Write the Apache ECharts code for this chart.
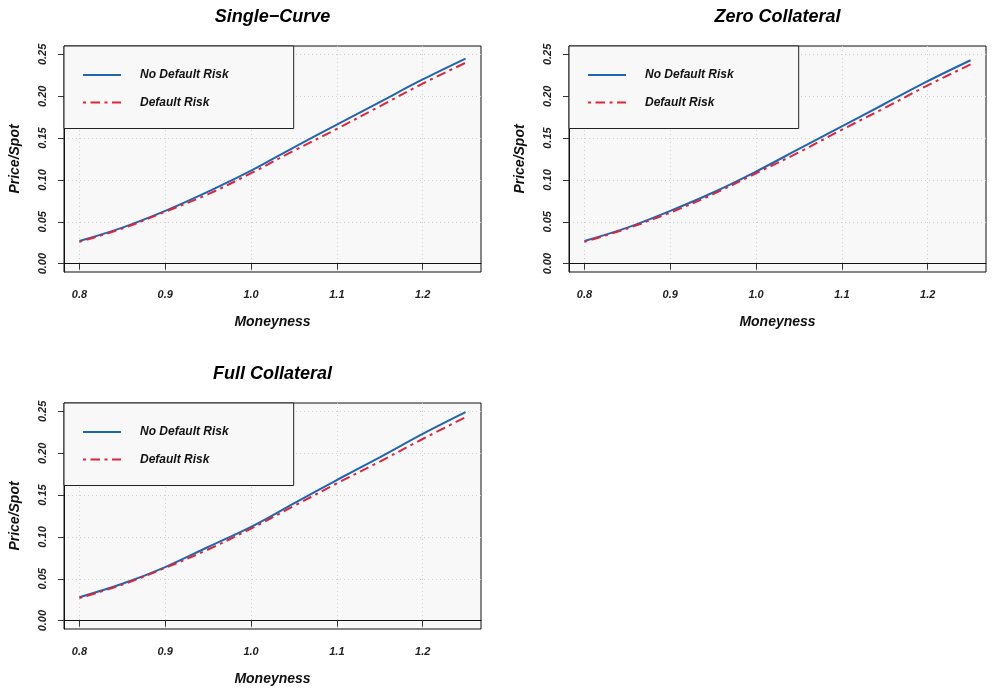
<!DOCTYPE html>
<html><head><meta charset="utf-8">
<script src="https://cdn.jsdelivr.net/npm/echarts@6/dist/echarts.min.js"></script>
<style>html,body{margin:0;padding:0;background:#fff}#c{width:992px;height:699px}</style>
</head><body><div id="c"></div>
<script>
// ---- data ----
const moneyness = [0.80, 0.85, 0.90, 0.95, 1.00, 1.05, 1.10, 1.15, 1.20, 1.25];
const singleCurveNoDefault = [0.027, 0.043, 0.063, 0.086, 0.111, 0.139, 0.166, 0.193, 0.220, 0.245];
const singleCurveDefault   = [0.026, 0.042, 0.062, 0.083, 0.108, 0.135, 0.161, 0.188, 0.215, 0.240];
const zeroCollNoDefault    = [0.027, 0.043, 0.063, 0.085, 0.110, 0.137, 0.164, 0.191, 0.218, 0.243];
const zeroCollDefault      = [0.026, 0.042, 0.061, 0.083, 0.108, 0.133, 0.160, 0.186, 0.213, 0.238];
const fullCollNoDefault    = [0.028, 0.044, 0.064, 0.088, 0.112, 0.140, 0.168, 0.195, 0.223, 0.249];
const fullCollDefault      = [0.027, 0.043, 0.063, 0.085, 0.110, 0.137, 0.164, 0.190, 0.217, 0.243];
const panelTitles = ['Single\u2212Curve', 'Zero Collateral', 'Full Collateral'];
const seriesNames = ['No Default Risk', 'Default Risk'];
const xTicks = [0.8, 0.9, 1.0, 1.1, 1.2];
const yTicks = [0.00, 0.05, 0.10, 0.15, 0.20, 0.25];
const xLabel = 'Moneyness';
const yLabel = 'Price/Spot';

const panelData = [
  [singleCurveNoDefault, singleCurveDefault],
  [zeroCollNoDefault, zeroCollDefault],
  [fullCollNoDefault, fullCollDefault]
];

// ---- layout / style ----
const grids = [
  {left: 64, top: 46, width: 417, height: 226},
  {left: 569, top: 46, width: 417, height: 226},
  {left: 64, top: 403, width: 417, height: 226}
];
const FAM = '"Liberation Sans", Arial, sans-serif';
const F = {fontFamily: FAM, fontWeight: 'bold', fontStyle: 'italic'};
const BLUE = '#1f66b2', RED = '#e0253a';
const gridLine = {show: true, lineStyle: {type: [1, 3], color: '#cfcfcf', width: 1}};

const chart = echarts.init(document.getElementById('c'), null, {renderer: 'canvas'});

const option = {
  backgroundColor: '#ffffff',
  animation: false,
  grid: grids.map(g => Object.assign({show: true, backgroundColor: '#f8f8f8', borderColor: '#111', borderWidth: 1}, g)),
  xAxis: grids.map((g, i) => ({
    type: 'value', gridIndex: i, min: 0.782, max: 1.268,
    axisLine: {show: true, lineStyle: {color: '#111'}},
    axisTick: {show: true, customValues: xTicks, length: 6, lineStyle: {color: '#333'}},
    axisLabel: Object.assign({customValues: xTicks, formatter: v => v.toFixed(1), margin: 17, fontSize: 11, color: '#222'}, F),
    splitLine: gridLine,
    name: xLabel, nameLocation: 'middle', nameGap: 43,
    nameTextStyle: Object.assign({fontSize: 14, color: '#111'}, F)
  })),
  yAxis: grids.map((g, i) => ({
    type: 'value', gridIndex: i, min: -0.01, max: 0.26,
    axisLine: {show: true, lineStyle: {color: '#111'}},
    axisTick: {show: true, customValues: yTicks, length: 6, lineStyle: {color: '#333'}},
    axisLabel: Object.assign({customValues: yTicks, formatter: v => v.toFixed(2), margin: 16, rotate: 90, fontSize: 11, color: '#222'}, F),
    splitLine: gridLine,
    name: yLabel, nameLocation: 'middle', nameGap: 42,
    nameTextStyle: Object.assign({fontSize: 14, color: '#111'}, F)
  })),
  legend: grids.map((g, i) => ({
    orient: 'vertical', left: g.left, top: g.top,
    data: seriesNames, itemWidth: 38, itemHeight: 14, itemGap: 15.5,
    padding: [23, 65, 20, 18],
    backgroundColor: '#f8f8f8', borderColor: '#222', borderWidth: 1,
    selectedMode: false,
    itemStyle: {opacity: 0},
    textStyle: Object.assign({fontSize: 12, color: '#111', padding: [0, 0, 0, 14]}, F)
  })),
  graphic: panelTitles.map((t, i) => ({
    type: 'text',
    x: grids[i].left + grids[i].width / 2,
    y: grids[i].top - 29,
    style: {text: t, fontSize: 18, fontWeight: 'bold', fontStyle: 'italic', fontFamily: FAM,
      fill: '#000', align: 'center', verticalAlign: 'middle'}
  })),
  series: []
};

panelData.forEach((pair, i) => {
  option.series.push({
    name: seriesNames[0], type: 'line', xAxisIndex: i, yAxisIndex: i,
    data: moneyness.map((m, j) => [m, pair[0][j]]),
    symbol: 'none', smooth: 0.35, color: BLUE,
    lineStyle: {color: BLUE, width: 2}, z: 3
  });
  option.series.push({
    name: seriesNames[1], type: 'line', xAxisIndex: i, yAxisIndex: i,
    data: moneyness.map((m, j) => [m, pair[1][j]]),
    symbol: 'none', smooth: 0.35, color: RED,
    lineStyle: {color: RED, width: 2, type: [3, 4.5, 9.5, 4.5], cap: 'butt'}, z: 4
  });
});

chart.setOption(option);
</script>
</body></html>
